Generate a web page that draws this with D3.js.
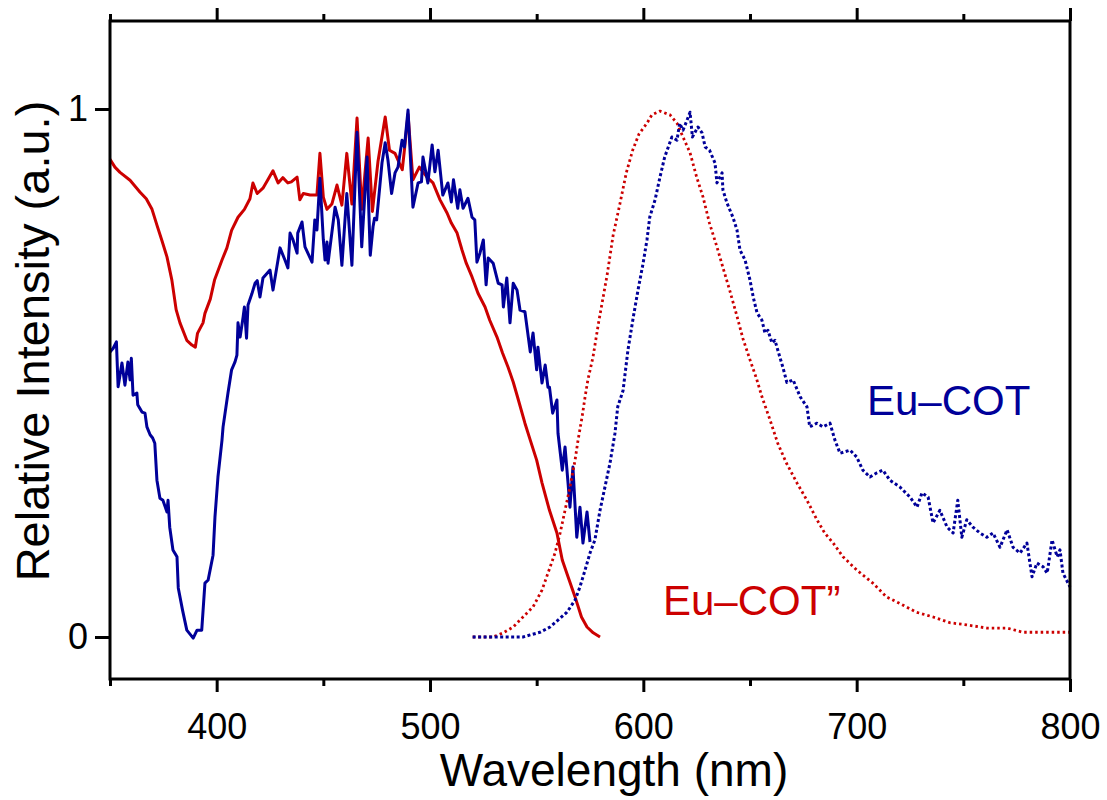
<!DOCTYPE html>
<html>
<head>
<meta charset="utf-8">
<script src="https://cdn.jsdelivr.net/npm/d3@7"></script>
<style>
  html, body { margin: 0; padding: 0; background: #fff; }
  svg { display: block; font-family: "Liberation Sans", Arial, sans-serif; }
</style>
</head>
<body>
<svg id="chart"></svg>
<script>
// excitation spectrum, Eu-COT'' (red solid)
const exRedWl = [350, 352.3, 354.7, 359.4, 364, 367, 369.7, 372, 374.4, 376.7, 379, 381, 382.8, 386, 388.4, 390, 391, 393.6, 394.5, 397, 399, 402.5, 404.8, 407, 410, 413, 415.6, 417, 419, 421.7, 424, 426.4, 428.8, 431, 433.4, 435, 437.7, 439, 440.6, 443.8, 447, 448.4, 450, 451.7, 454, 456.4, 458.7, 461, 463.4, 465.8, 468, 471, 473, 475.6, 479, 481, 483.6, 487, 488, 489.7, 492, 495, 498.6, 501.4, 504.7, 508, 510, 512.7, 515, 517, 519.7, 522.5, 525.8, 528, 531.4, 534, 536.6, 539, 541, 544.5, 547, 550, 552.5, 556, 559.5, 562, 564.7, 568, 571, 573.6, 576.5, 579.7];
const exRedI  = [0.905, 0.89, 0.88, 0.865, 0.843, 0.83, 0.81, 0.78, 0.75, 0.72, 0.676, 0.62, 0.595, 0.562, 0.553, 0.549, 0.575, 0.595, 0.613, 0.64, 0.676, 0.714, 0.737, 0.77, 0.795, 0.81, 0.83, 0.86, 0.84, 0.85, 0.866, 0.883, 0.86, 0.87, 0.86, 0.862, 0.871, 0.828, 0.84, 0.837, 0.837, 0.916, 0.833, 0.81, 0.82, 0.856, 0.818, 0.916, 0.82, 0.983, 0.81, 0.945, 0.806, 0.90, 0.985, 0.922, 0.916, 0.885, 0.922, 0.99, 0.866, 0.89, 0.871, 0.86, 0.828, 0.803, 0.784, 0.765, 0.733, 0.708, 0.682, 0.651, 0.625, 0.60, 0.568, 0.538, 0.511, 0.483, 0.455, 0.405, 0.373, 0.335, 0.292, 0.24, 0.197, 0.146, 0.114, 0.076, 0.038, 0.019, 0.008, 0.0];

// excitation spectrum, Eu-COT (blue solid)
const exBlueWl = [350, 351.5, 353, 353.8, 355.6, 357, 358.4, 359.4, 360, 360.8, 362.6, 363, 365, 366.4, 367.3, 368.8, 370, 371, 372, 373.4, 374.8, 376.7, 377.2, 378, 379.5, 381.4, 382, 384, 386, 389, 390.8, 393, 394.5, 396, 398.3, 399.2, 400.6, 402.5, 403, 405.3, 407, 408.6, 409.5, 410, 411, 412.4, 413, 414, 414.7, 416.5, 418, 419, 420.3, 421.7, 425, 426.4, 429.7, 432, 433.4, 434.4, 435.8, 437.7, 438, 440, 441.4, 444.7, 446, 447, 448.4, 450, 450.8, 451.7, 452.2, 455.5, 457, 458.7, 461, 463.4, 465.8, 468, 470.5, 472, 473.3, 474, 475, 477.5, 479, 480.3, 482, 483.6, 485, 486.9, 488, 489.7, 492, 494.4, 496, 496.7, 499, 501, 502.3, 503.8, 506, 508.4, 510, 511, 513, 514, 515.5, 517.8, 519.7, 521, 522, 523.4, 525, 526.3, 527.3, 529.6, 532, 533.8, 534.4, 536, 537.5, 539, 540.8, 542.2, 544.5, 547, 548.3, 550, 550.6, 552.5, 554, 555.3, 556, 557.5, 559.5, 560, 562, 563.3, 564.7, 565.6, 567, 568.8, 570.3, 571.7, 573.6, 575];
const exBlueI  = [0.54, 0.547, 0.559, 0.474, 0.519, 0.477, 0.521, 0.487, 0.528, 0.458, 0.462, 0.44, 0.426, 0.424, 0.398, 0.383, 0.377, 0.367, 0.297, 0.263, 0.259, 0.237, 0.259, 0.208, 0.165, 0.152, 0.093, 0.051, 0.013, -0.002, 0.013, 0.013, 0.102, 0.108, 0.155, 0.227, 0.303, 0.373, 0.398, 0.462, 0.506, 0.521, 0.534, 0.595, 0.568, 0.606, 0.625, 0.566, 0.629, 0.65, 0.67, 0.675, 0.644, 0.68, 0.695, 0.657, 0.737, 0.714, 0.699, 0.765, 0.752, 0.727, 0.765, 0.786, 0.739, 0.71, 0.79, 0.771, 0.869, 0.752, 0.714, 0.748, 0.708, 0.814, 0.79, 0.704, 0.84, 0.704, 0.956, 0.739, 0.909, 0.723, 0.777, 0.793, 0.79, 0.898, 0.936, 0.903, 0.84, 0.879, 0.89, 0.941, 0.928, 0.998, 0.814, 0.86, 0.862, 0.909, 0.86, 0.932, 0.881, 0.922, 0.837, 0.86, 0.824, 0.866, 0.812, 0.847, 0.812, 0.831, 0.795, 0.79, 0.71, 0.727, 0.752, 0.667, 0.718, 0.708, 0.67, 0.667, 0.625, 0.68, 0.595, 0.67, 0.657, 0.619, 0.616, 0.54, 0.576, 0.506, 0.549, 0.481, 0.515, 0.473, 0.473, 0.424, 0.449, 0.386, 0.316, 0.36, 0.292, 0.246, 0.322, 0.189, 0.246, 0.178, 0.237, 0.18];

// emission spectrum, Eu-COT'' (red dotted)
const emRedWl = [520, 529.5, 534.4, 539, 543.6, 548.3, 552.5, 555.3, 558.6, 561, 563.3, 565.6, 568, 569.4, 571.3, 572.7, 574, 576.4, 579, 583, 585.8, 589, 592, 595, 598, 601.7, 604, 607.8, 612.5, 615.8, 618.6, 621.9, 625, 628, 631, 634.5, 637.3, 640.6, 644, 646.7, 650, 653, 655.6, 659.4, 663, 667, 672, 676.7, 681.4, 685, 689, 693.6, 700, 707.6, 714, 720, 728, 735.8, 743.8, 751.6, 761, 770.5, 778, 789, 800];
const emRedI  = [0, 0, 0.008, 0.019, 0.038, 0.057, 0.089, 0.121, 0.159, 0.197, 0.24, 0.284, 0.335, 0.373, 0.417, 0.455, 0.487, 0.53, 0.595, 0.685, 0.76, 0.82, 0.879, 0.922, 0.953, 0.973, 0.989, 0.996, 0.989, 0.973, 0.947, 0.917, 0.871, 0.833, 0.784, 0.739, 0.70, 0.655, 0.606, 0.565, 0.525, 0.49, 0.455, 0.411, 0.367, 0.33, 0.292, 0.259, 0.222, 0.197, 0.178, 0.152, 0.127, 0.102, 0.076, 0.064, 0.047, 0.038, 0.027, 0.023, 0.017, 0.017, 0.009, 0.009, 0.009];

// emission spectrum, Eu-COT (blue dotted)
const emBlueWl = [520, 532.8, 543.6, 547, 551.6, 556.3, 560, 564.2, 568, 570.3, 572.7, 575, 577.3, 579.7, 582, 584.4, 586.7, 588, 590.5, 592.8, 595.3, 597.5, 599.9, 601.7, 603, 605.5, 607.8, 610, 613.4, 615.8, 617, 618.6, 620.5, 621.9, 623, 625.6, 627.5, 629, 631, 633.6, 634.5, 636.9, 637.3, 639.2, 642, 643.9, 645.3, 647.7, 650, 651.5, 653.3, 655.6, 657, 658.4, 660.3, 661.7, 664, 665.4, 667.3, 670.2, 673.5, 676.7, 678, 681.4, 684.2, 687.5, 689.8, 692.2, 696.9, 700, 702.9, 706.2, 709.5, 712.3, 715.6, 720.3, 725, 728.3, 730.6, 733.5, 735.8, 739, 742.4, 745.2, 747.4, 749.3, 751.6, 754.5, 757.8, 761, 763.9, 767.2, 770.5, 773.3, 776.6, 779.8, 782.2, 784.5, 787.4, 789.3, 791.6, 794, 795.3, 796.7, 800];
const emBlueI  = [0, 0, 0, 0.004, 0.009, 0.019, 0.032, 0.047, 0.07, 0.095, 0.127, 0.159, 0.184, 0.24, 0.284, 0.33, 0.386, 0.436, 0.467, 0.544, 0.606, 0.657, 0.708, 0.752, 0.795, 0.828, 0.871, 0.909, 0.947, 0.941, 0.973, 0.96, 0.979, 0.994, 0.947, 0.966, 0.955, 0.928, 0.922, 0.898, 0.86, 0.879, 0.847, 0.822, 0.795, 0.771, 0.733, 0.714, 0.676, 0.644, 0.614, 0.60, 0.576, 0.581, 0.557, 0.562, 0.53, 0.511, 0.482, 0.487, 0.455, 0.436, 0.398, 0.405, 0.398, 0.405, 0.373, 0.348, 0.354, 0.341, 0.316, 0.303, 0.311, 0.316, 0.297, 0.284, 0.265, 0.246, 0.273, 0.265, 0.216, 0.24, 0.208, 0.197, 0.259, 0.189, 0.222, 0.208, 0.197, 0.189, 0.197, 0.17, 0.203, 0.17, 0.159, 0.178, 0.114, 0.14, 0.133, 0.121, 0.184, 0.152, 0.165, 0.121, 0.095];

const xMajor = [400, 500, 600, 700, 800];
const xMinor = [350, 450, 550, 650, 750];
const yTicks = [0, 1];

const red  = '#cc0000';
const blue = '#000099';

const W = 1107, H = 800;
const margin = { top: 21, right: 37, bottom: 121, left: 110 };
const width  = W - margin.left - margin.right;
const height = H - margin.top - margin.bottom;

const svg = d3.select('#chart')
  .attr('width', W)
  .attr('height', H);

const g = svg.append('g')
  .attr('transform', `translate(${margin.left}, ${margin.top})`);

const x = d3.scaleLinear().domain([350, 800]).range([0, width]);
const y = d3.scaleLinear().domain([-0.0795, 1.1667]).range([height, 0]);

const line = d3.line()
  .x(d => x(d[0]))
  .y(d => y(d[1]));

const series = [
  { wl: exRedWl,  v: exRedI,  color: red,  dash: null,    w: 3 },
  { wl: exBlueWl, v: exBlueI, color: blue, dash: null,    w: 3 },
  { wl: emRedWl,  v: emRedI,  color: red,  dash: '2.5,3', w: 2.8 },
  { wl: emBlueWl, v: emBlueI, color: blue, dash: '3,2.5', w: 3 }
];

series.forEach(s => {
  g.append('path')
    .datum(d3.zip(s.wl, s.v))
    .attr('fill', 'none')
    .attr('stroke', s.color)
    .attr('stroke-width', s.w)
    .attr('stroke-linejoin', 'round')
    .attr('stroke-dasharray', s.dash)
    .attr('d', line);
});

function styleAxis(sel) {
  sel.select('.domain').remove();
  sel.selectAll('.tick line').attr('stroke', '#000').attr('stroke-width', 3);
  sel.selectAll('.tick text')
    .attr('fill', '#000')
    .attr('font-size', 36)
    .attr('font-family', '"Liberation Sans", Arial, sans-serif');
}

// bottom axis, major + minor ticks
g.append('g')
  .attr('transform', `translate(0, ${height})`)
  .call(d3.axisBottom(x).tickValues(xMajor).tickSize(13).tickPadding(21).tickSizeOuter(0))
  .call(styleAxis);

g.append('g')
  .attr('transform', `translate(0, ${height})`)
  .call(d3.axisBottom(x).tickValues(xMinor).tickSize(7).tickFormat('').tickSizeOuter(0))
  .call(styleAxis);

// top axis, ticks only
g.append('g')
  .call(d3.axisTop(x).tickValues(xMajor).tickSize(13).tickFormat('').tickSizeOuter(0))
  .call(styleAxis);

g.append('g')
  .call(d3.axisTop(x).tickValues(xMinor).tickSize(7).tickFormat('').tickSizeOuter(0))
  .call(styleAxis);

// left axis
g.append('g')
  .call(d3.axisLeft(y).tickValues(yTicks).tickFormat(d3.format('d')).tickSize(15).tickPadding(7).tickSizeOuter(0))
  .call(styleAxis);

// frame
g.append('rect')
  .attr('x', 0).attr('y', 0)
  .attr('width', width).attr('height', height)
  .attr('fill', 'none')
  .attr('stroke', '#000')
  .attr('stroke-width', 3);

// axis titles
g.append('text')
  .attr('transform', `translate(${49 - margin.left}, ${341 - margin.top}) rotate(-90)`)
  .attr('text-anchor', 'middle')
  .attr('font-size', 47)
  .attr('fill', '#000')
  .text('Relative Intensity (a.u.)');

g.append('text')
  .attr('x', 614 - margin.left)
  .attr('y', 786 - margin.top)
  .attr('text-anchor', 'middle')
  .attr('font-size', 46)
  .attr('fill', '#000')
  .text('Wavelength (nm)');

// series labels
g.append('text')
  .attr('x', 867 - margin.left)
  .attr('y', 415 - margin.top)
  .attr('font-size', 42)
  .attr('fill', blue)
  .text('Eu–COT');

g.append('text')
  .attr('x', 663 - margin.left)
  .attr('y', 615 - margin.top)
  .attr('font-size', 42)
  .attr('fill', red)
  .text('Eu–COT”');
</script>
</body>
</html>
